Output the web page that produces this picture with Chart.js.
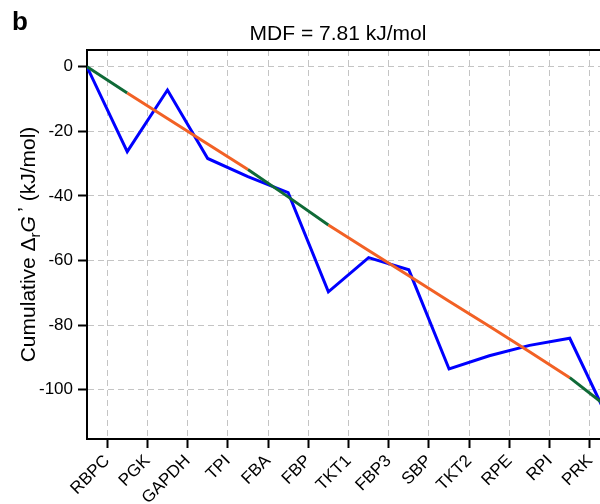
<!DOCTYPE html>
<html>
<head>
<meta charset="utf-8">
<script src="https://cdn.jsdelivr.net/npm/chart.js@4/dist/chart.umd.min.js"></script>
<style>
  html, body { margin: 0; padding: 0; background: #fff; overflow: hidden; }
  #wrap { width: 620px; height: 504px; }
</style>
</head>
<body>
<div id="wrap"><canvas id="mdfChart" width="620" height="504"></canvas></div>
<script>
// reactions along the pathway, in order
const reactions = ["RBPC", "PGK", "GAPDH", "TPI", "FBA", "FBP", "TKT1", "FBP3", "SBP", "TKT2", "RPE", "RPI", "PRK"];

// cumulative standard drGibbs energy after each step (kJ/mol), starting at 0
const cumStandard = [0, -26.3, -7.2, -28.4, -34.0, -39.0, -69.7, -59.1, -62.9, -93.6, -89.5, -86.3, -84.1, -110.3];

// cumulative drG' at the MDF solution (kJ/mol)
const cumOptimized = [0, -8.1, -16.0, -23.9, -31.8, -40.3, -49.0, -56.9, -64.7, -72.6, -80.4, -88.3, -96.3, -106.0];

// reactions drawn in green on the optimized line
const greenSteps = [true, false, false, false, true, true, false, false, false, false, false, false, true];

const yTicks = [0, -20, -40, -60, -80, -100];

const ORANGE = "#f26125";
const GREEN = "#0f6a37";
const BLUE = "#0000ff";
const FONT = "Liberation Sans, Arial, sans-serif";

function toPoints(values) {
  return values.map((v, i) => ({ x: i, y: v }));
}

// title, panel letter, y label with subscript, top frame line
const decorations = {
  id: "decorations",
  afterDraw(chart) {
    const { ctx, chartArea } = chart;
    ctx.save();

    ctx.strokeStyle = "#000";
    ctx.lineWidth = 2;
    ctx.beginPath();
    ctx.moveTo(chartArea.left - 1, chartArea.top);
    ctx.lineTo(chartArea.right, chartArea.top);
    ctx.stroke();

    ctx.fillStyle = "#000";
    ctx.textBaseline = "alphabetic";
    ctx.font = "bold 26px " + FONT;
    ctx.textAlign = "left";
    ctx.fillText("b", 12, 30);

    ctx.font = "21px " + FONT;
    ctx.textAlign = "center";
    ctx.fillText("MDF = 7.81 kJ/mol", 338, 40);

    // y axis title, drawn piece by piece
    const parts = [
      { t: "Cumulative ", f: "21px " + FONT, dy: 0 },
      { t: "\u0394", f: "21px " + FONT, dy: 0 },
      { t: "r", f: "15px " + FONT, dy: 5 },
      { t: "G", f: "italic 21px " + FONT, dy: 0 },
      { t: "\u2009\u2019", f: "21px " + FONT, dy: -3 },
      { t: " (kJ/mol)", f: "21px " + FONT, dy: 0 },
    ];
    let total = 0;
    parts.forEach((p) => {
      ctx.font = p.f;
      p.w = ctx.measureText(p.t).width;
      total += p.w;
    });
    ctx.translate(35, (chartArea.top + chartArea.bottom) / 2);
    ctx.rotate(-Math.PI / 2);
    ctx.textAlign = "left";
    let x = -total / 2;
    parts.forEach((p) => {
      ctx.font = p.f;
      ctx.fillText(p.t, x, p.dy);
      x += p.w;
    });
    ctx.restore();
  },
};

new Chart(document.getElementById("mdfChart"), {
  type: "line",
  data: {
    datasets: [
      {
        label: "optimized",
        data: toPoints(cumOptimized),
        borderWidth: 3,
        borderColor: ORANGE,
        segment: {
          borderColor: (c) => (greenSteps[c.p0DataIndex] ? GREEN : ORANGE),
        },
        pointRadius: 0,
        tension: 0,
      },
      {
        label: "standard",
        data: toPoints(cumStandard),
        borderWidth: 3,
        borderColor: BLUE,
        pointRadius: 0,
        tension: 0,
      },
    ],
  },
  options: {
    responsive: false,
    devicePixelRatio: 1,
    animation: false,
    layout: { padding: { top: 50, left: 0, right: 10, bottom: 0 } },
    plugins: {
      legend: { display: false },
      tooltip: { enabled: false },
    },
    scales: {
      x: {
        type: "linear",
        min: 0,
        max: reactions.length,
        afterBuildTicks: (s) => {
          s.ticks = reactions.map((_, i) => ({ value: i + 0.5 }));
        },
        afterFit: (s) => {
          s.height = 65;
        },
        ticks: {
          autoSkip: false,
          minRotation: 45,
          maxRotation: 45,
          padding: 3,
          color: "#000",
          font: { family: FONT, size: 17 },
          callback: (v) => reactions[Math.round(v - 0.5)],
        },
        grid: {
          color: "#c4c4c4",
          lineWidth: 1,
          drawTicks: true,
          tickLength: 9,
          tickColor: "#000",
          tickWidth: 2,
          tickBorderDash: [],
        },
        border: { display: true, color: "#000", width: 2, dash: [6, 4] },
      },
      y: {
        min: -115.3,
        max: 5.2,
        afterBuildTicks: (s) => {
          s.ticks = yTicks.map((v) => ({ value: v }));
        },
        afterFit: (s) => {
          s.width = 87;
        },
        ticks: {
          padding: 5,
          color: "#000",
          font: { family: FONT, size: 17 },
        },
        grid: {
          color: "#c4c4c4",
          lineWidth: 1,
          drawTicks: true,
          tickLength: 9,
          tickColor: "#000",
          tickWidth: 2,
          tickBorderDash: [],
        },
        border: { display: true, color: "#000", width: 2, dash: [6, 4] },
      },
    },
  },
  plugins: [decorations],
});
</script>
</body>
</html>
